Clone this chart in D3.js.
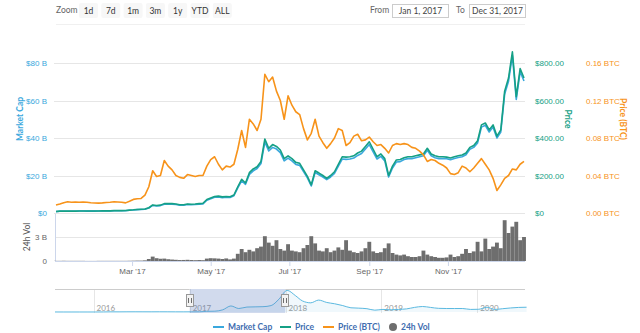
<!DOCTYPE html>
<html>
<head>
<meta charset="utf-8">
<script src="https://cdnjs.cloudflare.com/ajax/libs/d3/7.8.5/d3.min.js"></script>
<style>
  body { margin: 0; background: #fff; }
  svg { display: block; font-family: Lato, 'Open Sans', sans-serif; }
</style>
</head>
<body>
<svg id="chart" width="640" height="333"></svg>
<script>
// ETH, 2017, one sample every 3 days
var startDate = '2017-01-01', stepDays = 3

var price = [
  8, 10, 10, 10, 10, 10, 11, 11, 10.5, 10.5,
  10.7, 11, 11.3, 11.5, 11.4, 12.8, 12.9, 12.5, 13, 15.5,
  17, 19, 20, 21, 28, 43, 40, 42, 50, 50,
  50, 48, 44, 44, 48, 47, 48, 50, 52, 72,
  80, 88, 90, 86, 88, 87, 96, 140, 180, 160,
  215, 235, 247, 275, 395, 345, 365, 355, 336, 290,
  305, 290, 270, 265, 230, 195, 150, 225, 213, 200,
  185, 200, 220, 260, 300, 298, 300, 305, 320, 330,
  355, 380, 340, 300, 315, 290, 200, 250, 283, 285,
  295, 300, 300, 305, 310, 315, 345, 315, 305, 300,
  300, 298, 293, 300, 305, 309, 320, 350, 360, 385,
  470, 480, 443, 470, 410, 443, 650, 720, 860, 620,
  770, 720
]

var priceBtc = [
  0.0085, 0.0095, 0.011, 0.012, 0.0115, 0.0118, 0.0115, 0.0116, 0.0115, 0.011,
  0.0106, 0.0105, 0.0108, 0.0112, 0.0115, 0.012, 0.0118, 0.0115, 0.0108, 0.0125,
  0.0145, 0.0152, 0.0155, 0.019, 0.028, 0.045, 0.039, 0.040, 0.056, 0.050,
  0.046, 0.040, 0.038, 0.037, 0.041, 0.040, 0.039, 0.040, 0.040, 0.050,
  0.057, 0.060, 0.052, 0.046, 0.050, 0.049, 0.052, 0.068, 0.088, 0.070,
  0.100, 0.095, 0.088, 0.100, 0.148, 0.140, 0.145, 0.130, 0.120, 0.100,
  0.125, 0.115, 0.108, 0.105, 0.090, 0.078, 0.085, 0.100, 0.082, 0.075,
  0.069, 0.074, 0.080, 0.090, 0.088, 0.072, 0.075, 0.082, 0.084, 0.077,
  0.078, 0.081, 0.076, 0.072, 0.073, 0.069, 0.064, 0.072, 0.074, 0.073,
  0.074, 0.073, 0.070, 0.069, 0.066, 0.062, 0.055, 0.057, 0.056, 0.053,
  0.051, 0.048, 0.042, 0.041, 0.043, 0.050, 0.048, 0.044, 0.048, 0.053,
  0.058, 0.052, 0.046, 0.037, 0.024, 0.030, 0.037, 0.040, 0.047, 0.046,
  0.052, 0.055
]

// market cap, billions USD
var marketCap = [
  0.75, 0.94, 0.94, 0.94, 0.94, 0.94, 1.03, 1.03, 0.99, 0.99,
  1.01, 1.03, 1.06, 1.08, 1.07, 1.20, 1.21, 1.18, 1.22, 1.46,
  1.6, 1.79, 1.88, 1.97, 2.63, 4.04, 3.76, 3.95, 4.7, 4.7,
  4.7, 4.51, 4.14, 4.14, 4.51, 4.42, 4.51, 4.7, 4.89, 6.8,
  7.6, 8.4, 8.6, 8.2, 8.4, 8.3, 9.2, 13.4, 17.2, 15.3,
  20.6, 22.5, 23.7, 26.4, 37.9, 33.1, 35.0, 34.1, 32.2, 27.8,
  29.3, 27.8, 25.9, 25.4, 22.1, 18.7, 14.4, 21.6, 20.4, 19.2,
  17.8, 19.2, 21.1, 25.0, 28.8, 28.6, 28.8, 29.3, 30.7, 31.7,
  34.1, 36.5, 32.6, 28.8, 30.2, 27.8, 19.2, 24.0, 27.2, 27.4,
  28.5, 29.0, 29.0, 29.5, 30.0, 30.5, 33.4, 30.5, 29.5, 29.0,
  29.1, 28.9, 28.4, 29.1, 29.6, 30.0, 31.1, 34.0, 35.0, 37.4,
  45.8, 46.8, 43.2, 45.8, 40.0, 43.2, 63.4, 70.3, 84.0, 60.6,
  75.3, 70.4
]

// 24h volume, billions USD
var volume = [
  0.02, 0.02, 0.03, 0.02, 0.02, 0.02, 0.02, 0.02, 0.01, 0.01,
  0.01, 0.02, 0.02, 0.02, 0.02, 0.02, 0.02, 0.02, 0.02, 0.03,
  0.04, 0.05, 0.05, 0.08, 0.25, 0.55, 0.35, 0.28, 0.3, 0.22,
  0.18, 0.15, 0.12, 0.13, 0.15, 0.12, 0.1, 0.12, 0.1, 0.3,
  0.35, 0.33, 0.3, 0.25, 0.32, 0.2, 0.3, 0.9, 1.5, 1.1,
  1.4, 1.2, 1.6, 1.8, 3.1, 2.3, 1.9, 2.6, 1.5, 1.3,
  2.1, 1.3, 1.2, 1.1, 1.6, 2.0, 3.1, 2.2, 1.3, 1.2,
  1.6, 1.1, 1.3, 1.7, 1.4, 2.6, 1.3, 1.1, 1.0, 1.2,
  1.6, 2.4, 1.2, 1.0, 1.1, 1.6, 2.2, 1.0, 0.8, 0.7,
  0.8, 0.6, 0.5, 0.5, 0.6, 1.3, 0.8, 0.6, 0.5, 0.4,
  0.4, 0.45, 0.8, 0.5, 0.6, 0.9, 1.5, 1.0, 1.2, 2.4,
  1.2, 2.8, 1.5, 1.8, 2.3, 1.6, 5.1, 3.5, 4.3, 4.9,
  2.6, 3.0
]

var capTicks = [0, 20, 40, 60, 80]
var priceTicks = [0, 200, 400, 600, 800]
var btcTicks = [0, 0.04, 0.08, 0.12, 0.16]
var volTicks = [0, 3]
var monthTicks = ['2017-03-01', '2017-05-01', '2017-07-01', '2017-09-01', '2017-11-01']

// navigator: monthly market cap (B) since launch
var navStart = '2015-08-07'
var navCap = [
  0.1, 0.07, 0.05, 0.07, 0.07,
  0.08, 0.3, 0.8, 0.7, 1.0, 1.1, 1.0, 0.9, 1.1, 1.0, 0.8, 0.7,
  0.9, 1.1, 3.7, 4.5, 12, 33, 19, 27, 28, 29, 35, 70,
  118, 90, 60, 50, 65, 52, 45, 35, 23, 21, 18, 10,
  14, 12, 14, 17, 25, 30, 25, 20, 19, 19, 19, 14,
  15, 26, 14, 18, 22, 25, 26
]
var navYears = ['2016', '2017', '2018', '2019', '2020']
var rangeFrom = '2017-01-01', rangeTo = '2017-12-31'

var zoomButtons = ['1d', '7d', '1m', '3m', '1y', 'YTD', 'ALL']
var legendNames = ['Market Cap', 'Price', 'Price (BTC)', '24h Vol']

var capColor = '#3aa8dd', priceColor = '#15a085', btcColor = '#f7931a', volColor = '#6e6e6e'
var gridColor = '#e6e6e6', axisColor = '#ccd6eb'

var parse = d3.timeParse('%Y-%m-%d')
var svg = d3.select('#chart')

var t0 = parse(startDate)
var dates = price.map(function (d, i) { return d3.timeDay.offset(t0, i * stepDays) })

var x = d3.scaleTime().domain(d3.extent(dates)).range([56, 524])
var yCap = d3.scaleLinear().domain([0, 80]).range([213, 63])
var yPrice = d3.scaleLinear().domain([0, 800]).range([213, 63])
var yBtc = d3.scaleLinear().domain([0, 0.16]).range([213, 63])
var yVol = d3.scaleLinear().domain([0, 3]).range([261, 237])

// ---- top toolbar
var bar = svg.append('g').attr('font-size', '8.5px')
bar.append('text').attr('x', 56).attr('y', 13).attr('fill', '#666').text('Zoom')
var btn = bar.selectAll('g.btn').data(zoomButtons).enter().append('g')
  .attr('transform', function (d, i) { return 'translate(' + (79 + i * 22.3) + ',3)' })
btn.append('rect').attr('width', 19).attr('height', 15).attr('rx', 2).attr('fill', '#f7f7f7')
btn.append('text').attr('x', 9.5).attr('y', 10.5).attr('text-anchor', 'middle').attr('fill', '#333')
  .text(function (d) { return d })

bar.append('text').attr('x', 370).attr('y', 13).attr('fill', '#666').text('From')
bar.append('text').attr('x', 456).attr('y', 13).attr('fill', '#666').text('To')
var fmtDate = d3.timeFormat('%b %-d, %Y')
;[[392, rangeFrom], [469, rangeTo]].forEach(function (b) {
  bar.append('rect').attr('x', b[0] + 0.5).attr('y', 4.5).attr('width', 56).attr('height', 13)
    .attr('fill', '#fff').attr('stroke', '#ccc')
  bar.append('text').attr('x', b[0] + 28.5).attr('y', 13.5).attr('text-anchor', 'middle')
    .attr('fill', '#444').text(fmtDate(parse(b[1])))
})
svg.append('line').attr('x1', 56).attr('x2', 525).attr('y1', 24.5).attr('y2', 24.5)
  .attr('stroke', '#f0f0f0')

// ---- grid
svg.append('g').selectAll('line').data(capTicks).enter().append('line')
  .attr('x1', 54).attr('x2', 525)
  .attr('y1', function (d) { return Math.round(yCap(d)) + 0.5 })
  .attr('y2', function (d) { return Math.round(yCap(d)) + 0.5 })
  .attr('stroke', gridColor)

svg.append('line').attr('x1', 55).attr('x2', 525)
  .attr('y1', Math.round(yVol(3)) + 0.5).attr('y2', Math.round(yVol(3)) + 0.5)
  .attr('stroke', gridColor)
svg.append('line').attr('x1', 55.5).attr('x2', 55.5).attr('y1', 214).attr('y2', 261)
  .attr('stroke', axisColor)

// ---- axes
function styleAxis (g, color) {
  g.select('.domain').remove()
  g.selectAll('text').attr('fill', color).attr('font-size', '8px')
}

svg.append('g').attr('transform', 'translate(47,0)')
  .call(d3.axisLeft(yCap).tickValues(capTicks).tickSize(0).tickPadding(0)
    .tickFormat(function (d) { return d === 0 ? '$0' : '$' + d + ' B' }))
  .call(styleAxis, capColor)

svg.append('g').attr('transform', 'translate(535,0)')
  .call(d3.axisRight(yPrice).tickValues(priceTicks).tickSize(0).tickPadding(0)
    .tickFormat(function (d) { return d === 0 ? '$0' : '$' + d3.format('.2f')(d) }))
  .call(styleAxis, priceColor)

svg.append('g').attr('transform', 'translate(586,0)')
  .call(d3.axisRight(yBtc).tickValues(btcTicks).tickSize(0).tickPadding(0)
    .tickFormat(function (d) { return d3.format('.2f')(d) + ' BTC' }))
  .call(styleAxis, btcColor)

svg.append('g').attr('transform', 'translate(47,0)')
  .call(d3.axisLeft(yVol).tickValues(volTicks).tickSize(0).tickPadding(0)
    .tickFormat(function (d) { return d === 0 ? '0' : d + ' B' }))
  .call(styleAxis, '#666')

var xAxis = svg.append('g').attr('transform', 'translate(0,261)')
  .call(d3.axisBottom(x).tickValues(monthTicks.map(parse)).tickSize(5).tickPadding(2)
    .tickFormat(d3.timeFormat("%b '%y")))
xAxis.select('.domain').attr('stroke', axisColor).attr('d', 'M55,0.5H525')
xAxis.selectAll('line').attr('stroke', axisColor)
xAxis.selectAll('text').attr('fill', '#666').attr('font-size', '8px')

// axis titles
function title (tx, ty, rot, txt, color, weight) {
  svg.append('text')
    .attr('transform', 'translate(' + tx + ',' + ty + ') rotate(' + rot + ')')
    .attr('text-anchor', 'middle').attr('dy', '0.35em')
    .attr('font-size', '8.5px').attr('font-weight', weight)
    .attr('fill', color).text(txt)
}
title(20, 119, -90, 'Market Cap', capColor, 'bold')
title(27, 237, -90, '24h Vol', '#555', 'normal')
title(568, 119, 90, 'Price', priceColor, 'bold')
title(623, 119, 90, 'Price (BTC)', btcColor, 'bold')

// ---- volume columns
var colW = x(dates[1]) - x(dates[0])
svg.append('g').selectAll('rect').data(volume).enter().append('rect')
  .attr('x', function (d, i) { return x(dates[i]) - colW / 2 })
  .attr('width', colW)
  .attr('y', function (d) { return yVol(d) })
  .attr('height', function (d) { return yVol(0) - yVol(d) })
  .attr('fill', volColor)

// ---- lines
function drawLine (values, scale, color) {
  var line = d3.line()
    .x(function (d, i) { return x(dates[i]) })
    .y(function (d) { return scale(d) })
  svg.append('path').datum(values)
    .attr('d', line)
    .attr('fill', 'none')
    .attr('stroke', color)
    .attr('stroke-width', 1.6)
    .attr('stroke-linejoin', 'round')
}
drawLine(marketCap, yCap, capColor)
drawLine(price, yPrice, priceColor)
drawLine(priceBtc, yBtc, btcColor)

// ---- navigator
var n0 = parse(navStart)
var navDates = navCap.map(function (d, i) { return d3.timeMonth.offset(n0, i) })
var navX = d3.scaleTime().domain([n0, parse('2020-07-01')]).range([55, 525])
var navY = d3.scaleLinear().domain([0, 120]).range([312, 290])
var navTop = 289, navBottom = 313

var nav = svg.append('g')
nav.selectAll('line.yr').data(navYears).enter().append('line')
  .attr('x1', function (d) { return Math.round(navX(parse(d + '-01-01'))) + 0.5 })
  .attr('x2', function (d) { return Math.round(navX(parse(d + '-01-01'))) + 0.5 })
  .attr('y1', navTop).attr('y2', navBottom)
  .attr('stroke', gridColor)
nav.selectAll('text').data(navYears).enter().append('text')
  .attr('x', function (d) { return navX(parse(d + '-01-01')) + 3 })
  .attr('y', 311)
  .attr('font-size', '8px').attr('fill', '#999')
  .text(function (d) { return d })

nav.append('path').datum(navCap)
  .attr('d', d3.area()
    .x(function (d, i) { return navX(navDates[i]) })
    .y0(navY(0)).y1(function (d) { return navY(d) })
    .curve(d3.curveMonotoneX))
  .attr('fill', 'rgba(58,168,221,0.08)')
nav.append('path').datum(navCap)
  .attr('d', d3.line()
    .x(function (d, i) { return navX(navDates[i]) })
    .y(function (d) { return navY(d) })
    .curve(d3.curveMonotoneX))
  .attr('fill', 'none').attr('stroke', '#5bb9e0').attr('stroke-width', 1)

var selA = navX(parse(rangeFrom)), selB = navX(parse(rangeTo))
nav.append('rect').attr('x', selA).attr('y', navTop).attr('width', selB - selA)
  .attr('height', navBottom - navTop).attr('fill', 'rgba(102,133,194,0.3)')
nav.append('path')
  .attr('d', 'M55,' + (navTop + 0.5) + 'H' + selA + 'M' + selB + ',' + (navTop + 0.5) + 'H525')
  .attr('stroke', '#cccccc').attr('fill', 'none')

var handle = nav.selectAll('g.handle').data([selA, selB]).enter().append('g')
  .attr('transform', function (d) { return 'translate(' + Math.round(d) + ',301)' })
handle.append('rect').attr('x', -3.5).attr('y', -6.5).attr('width', 7).attr('height', 12)
  .attr('fill', '#f2f2f2').attr('stroke', '#999')
handle.append('path').attr('d', 'M-1.5,-3V2M1.5,-3V2').attr('stroke', '#333').attr('stroke-width', 0.7)

// ---- legend
var legendX = [213, 280, 323, 389]
var legendColors = [capColor, priceColor, btcColor, volColor]
var leg = svg.append('g').selectAll('g').data(legendNames).enter().append('g')
  .attr('transform', function (d, i) { return 'translate(' + legendX[i] + ',327)' })
leg.each(function (d, i) {
  var g = d3.select(this)
  if (i === 3) {
    g.append('circle').attr('cx', 4).attr('cy', 0).attr('r', 4).attr('fill', legendColors[i])
  } else {
    g.append('line').attr('x1', 0).attr('x2', 11).attr('y1', 0).attr('y2', 0)
      .attr('stroke', legendColors[i]).attr('stroke-width', 2)
  }
})
leg.append('text').attr('x', function (d, i) { return i === 3 ? 12 : 15 }).attr('dy', '0.35em')
  .attr('font-size', '8.5px').attr('font-weight', 'bold').attr('fill', '#3f6db0')
  .text(function (d) { return d })
</script>
</body>
</html>
